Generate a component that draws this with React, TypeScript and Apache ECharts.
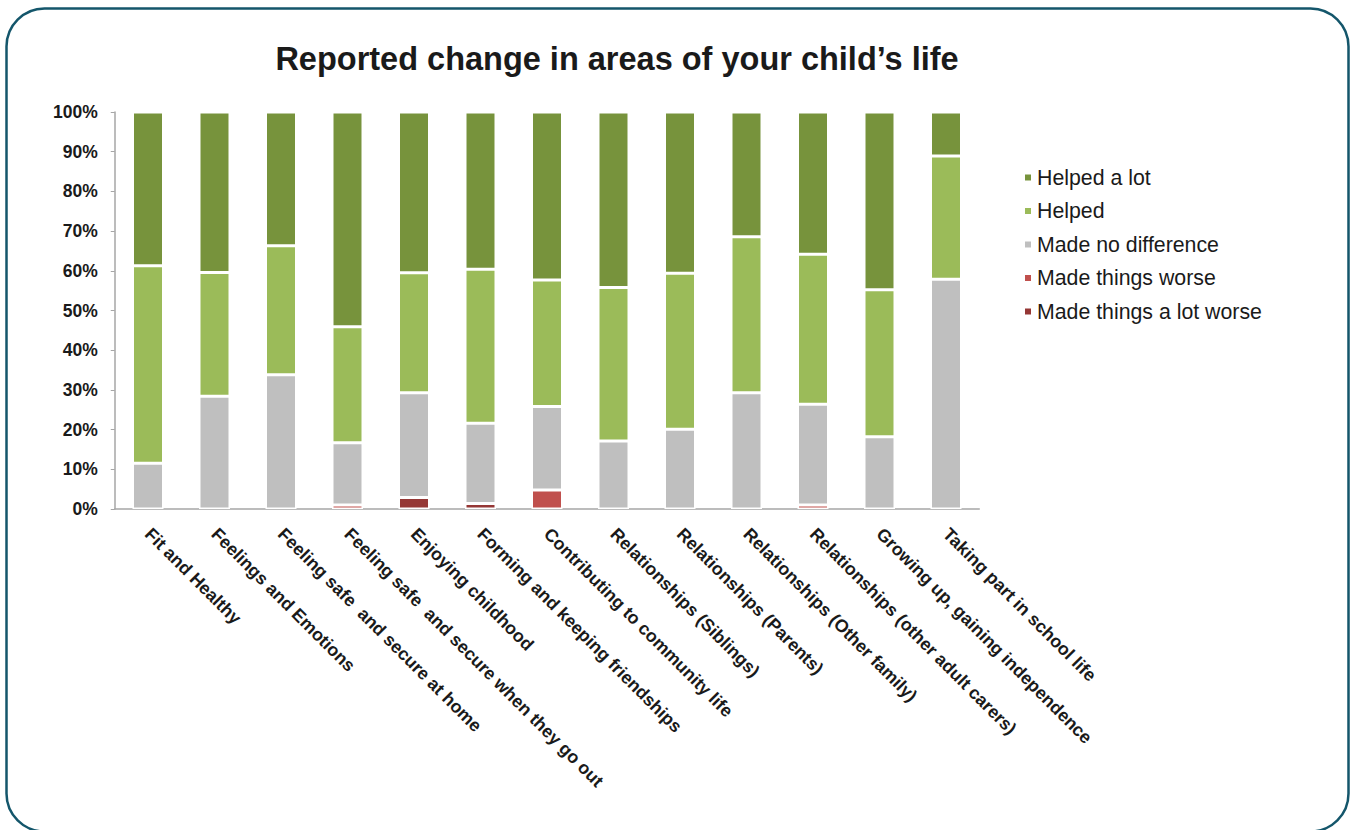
import React, { useEffect, useRef } from "react";
import * as echarts from "echarts";

const categories = [
  "Fit and Healthy",
  "Feelings and Emotions",
  "Feeling safe  and secure at home",
  "Feeling safe  and secure when they go out",
  "Enjoying childhood",
  "Forming and keeping friendships",
  "Contributing to community life",
  "Relationships (Siblings)",
  "Relationships (Parents)",
  "Relationships (Other family)",
  "Relationships (other adult carers)",
  "Growing up, gaining independence",
  "Taking part in school life",
];

const madeLotWorse = [0, 0, 0, 0, 2.9, 1.4, 0, 0, 0, 0, 0, 0, 0];
const madeWorse = [0, 0, 0, 1.0, 0, 0, 4.8, 0, 0, 0, 1.0, 0, 0];
const noDifference = [11.5, 28.4, 33.8, 15.7, 26.4, 20.2, 21.0, 17.1, 20.1, 29.3, 25.4, 18.2, 57.9];
const helped = [49.8, 31.2, 32.5, 29.2, 30.2, 38.8, 31.9, 38.7, 39.3, 39.3, 37.8, 37.0, 31.0];
const helpedALot = [38.7, 40.4, 33.7, 54.1, 40.5, 39.6, 42.3, 44.2, 40.6, 31.4, 35.8, 44.8, 11.1];

const seriesNames = [
  "Made things a lot worse",
  "Made things worse",
  "Made no difference",
  "Helped",
  "Helped a lot",
];
const legendOrder = [
  "Helped a lot",
  "Helped",
  "Made no difference",
  "Made things worse",
  "Made things a lot worse",
];
const seriesColors = ["#953735", "#C0504D", "#BFBFBF", "#9BBB59", "#77933C"];
const seriesData = [madeLotWorse, madeWorse, noDifference, helped, helpedALot];

export default function App() {
  const ref = useRef<HTMLDivElement>(null);
  useEffect(() => {
    if (!ref.current) return;
    const chart = echarts.init(ref.current, null, { renderer: "svg" });
    const font = "Arial, 'Liberation Sans', sans-serif";
    chart.setOption({
      animation: false,
      backgroundColor: "#ffffff",
      title: {
        text: "Reported change in areas of your child’s life",
        left: 612,
        textAlign: "center",
        top: 37,
        textStyle: { fontFamily: font, fontWeight: "bold", fontSize: 32.5, color: "#1a1a1a" },
      },
      graphic: [
        {
          type: "rect",
          shape: { x: 6.5, y: 8.5, width: 1342, height: 823, r: 38 },
          style: { fill: "none", stroke: "#14566b", lineWidth: 2.5 },
          z: 100,
        },
      ],
      legend: {
        orient: "vertical",
        left: 1018,
        top: 162,
        icon: "rect",
        itemWidth: 8,
        itemHeight: 8,
        itemGap: 12.5,
        data: legendOrder,
        textStyle: { fontFamily: font, fontSize: 21.3, lineHeight: 21, color: "#1a1a1a" },
      },
      grid: { left: 114.75, right: 376.75, top: 112, bottom: 321, containLabel: false },
      xAxis: {
        type: "category",
        data: categories,
        axisLine: { show: true, lineStyle: { color: "#a6a6a6", width: 1.5 } },
        axisTick: { show: false },
        axisLabel: {
          rotate: -45,
          interval: 0,
          margin: 22,
          fontFamily: font,
          fontWeight: "bold",
          fontSize: 17.8,
          color: "#1a1a1a",
        },
      },
      yAxis: {
        type: "value",
        min: 0,
        max: 100,
        interval: 10,
        splitLine: { show: false },
        axisLine: { show: true, lineStyle: { color: "#a6a6a6", width: 1.5 } },
        axisTick: { show: true, length: 4, lineStyle: { color: "#a6a6a6" } },
        axisLabel: {
          formatter: "{value}%",
          margin: 17,
          fontFamily: font,
          fontWeight: "bold",
          fontSize: 17.5,
          color: "#1a1a1a",
        },
      },
      series: seriesNames.map((name, i) => ({
        name,
        type: "bar",
        stack: "total",
        barWidth: 31,
        data: seriesData[i].map((v) => (v === 0 ? "-" : v)),
        itemStyle: { color: seriesColors[i], borderColor: "#ffffff", borderWidth: 1.5 },
      })),
    });
    return () => chart.dispose();
  }, []);
  return (
    <div
      ref={ref}
      style={{ position: "absolute", left: 0, top: 0, width: 1356, height: 830 }}
    />
  );
}
